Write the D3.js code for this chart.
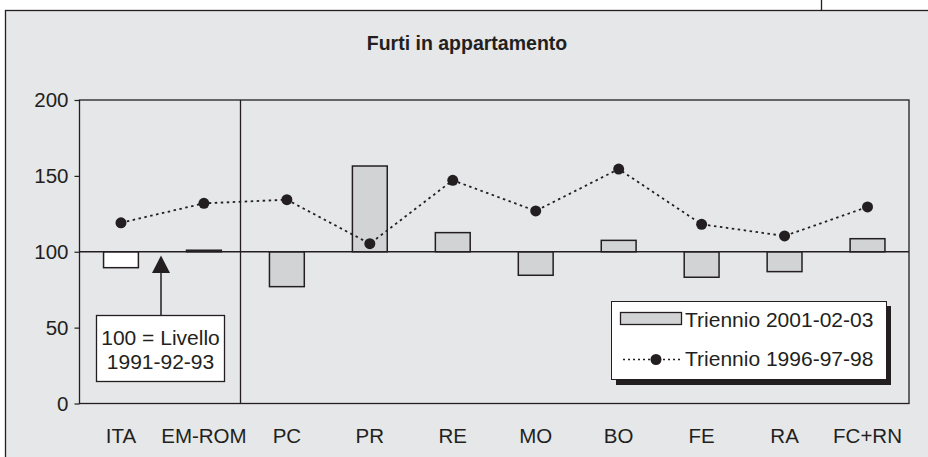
<!DOCTYPE html>
<html>
<head>
<meta charset="utf-8">
<script src="https://cdn.jsdelivr.net/npm/d3@7"></script>
<style>
  body { margin: 0; background: #fff; }
  text { font-family: "Liberation Sans", Arial, sans-serif; fill: #231f20; }
</style>
</head>
<body>
<div id="chart"></div>
<script>
const width = 928;
const height = 457;

// data (index, 100 = 1991-92-93)
const categories = ["ITA", "EM-ROM", "PC", "PR", "RE", "MO", "BO", "FE", "RA", "FC+RN"];
const triennio2001 = [89.5, 101, 77, 156.5, 112.6, 84.5, 107.5, 83.2, 86.9, 108.6];
const triennio1996 = [119.1, 131.9, 134.3, 105.3, 147.1, 126.9, 154.5, 118.1, 110.4, 129.5];
const yTicks = [0, 50, 100, 150, 200];
const legendLabels = ["Triennio 2001-02-03", "Triennio 1996-97-98"];

const ink = "#231f20";
const bg = "#e6e7e9";
const barFill = "#d2d3d5";

const plot = { left: 79.5, right: 909, top: 100, bottom: 403.5 };

const svg = d3.select("#chart")
  .append("svg")
  .attr("width", width)
  .attr("height", height);

// outer frame (runs off the right and bottom of the page)
svg.append("rect")
  .attr("x", 5.5).attr("y", 10.5)
  .attr("width", width + 10).attr("height", height + 10)
  .attr("fill", bg)
  .attr("stroke", ink).attr("stroke-width", 1.3);

svg.append("line")
  .attr("x1", 821.5).attr("x2", 821.5)
  .attr("y1", 0).attr("y2", 10.5)
  .attr("stroke", ink).attr("stroke-width", 1.3);

svg.append("text")
  .attr("x", 467).attr("y", 50)
  .attr("text-anchor", "middle")
  .attr("font-size", 19.5).attr("font-weight", "bold")
  .text("Furti in appartamento");

const x = d3.scaleBand()
  .domain(categories)
  .range([plot.left, plot.right])
  .paddingInner(0.58)
  .paddingOuter(0.29);

const y = d3.scaleLinear()
  .domain([0, 200])
  .range([plot.bottom, plot.top]);

const rows = categories.map((c, i) => ({ cat: c, bar: triennio2001[i], dot: triennio1996[i] }));

// plot box
svg.append("rect")
  .attr("x", plot.left).attr("y", plot.top)
  .attr("width", plot.right - plot.left).attr("height", plot.bottom - plot.top)
  .attr("fill", "none")
  .attr("stroke", ink).attr("stroke-width", 1.3);

// y axis
const yAxis = svg.append("g")
  .attr("transform", `translate(${plot.left},0)`)
  .call(d3.axisLeft(y).tickValues(yTicks).tickSize(5).tickPadding(6));
yAxis.select(".domain").remove();
yAxis.selectAll("line").attr("stroke", ink).attr("stroke-width", 1.2);
yAxis.selectAll("text")
  .attr("font-size", 20.5)
  .attr("font-family", "Liberation Sans, Arial, sans-serif")
  .attr("fill", ink);

// x labels
const xAxis = svg.append("g")
  .attr("transform", `translate(0,${plot.bottom})`)
  .call(d3.axisBottom(x).tickSize(0).tickPadding(25));
xAxis.select(".domain").remove();
xAxis.selectAll("text")
  .attr("font-size", 20.5)
  .attr("font-family", "Liberation Sans, Arial, sans-serif")
  .attr("fill", ink);

// separator between ITA / EM-ROM and provinces
svg.append("line")
  .attr("x1", 240.5).attr("x2", 240.5)
  .attr("y1", plot.top).attr("y2", plot.bottom)
  .attr("stroke", ink).attr("stroke-width", 1.3);

// bars from the 100 baseline
svg.selectAll(".bar")
  .data(rows)
  .enter().append("rect")
  .attr("class", "bar")
  .attr("x", d => x(d.cat))
  .attr("width", x.bandwidth())
  .attr("y", d => Math.min(y(d.bar), y(100)))
  .attr("height", d => Math.abs(y(d.bar) - y(100)))
  .attr("fill", d => d.cat === "ITA" ? "#fff" : barFill)
  .attr("stroke", ink).attr("stroke-width", 1.5);

// baseline at 100
svg.append("line")
  .attr("x1", plot.left).attr("x2", plot.right)
  .attr("y1", y(100)).attr("y2", y(100))
  .attr("stroke", ink).attr("stroke-width", 1.3);

// dotted line series
const line = d3.line()
  .x(d => x(d.cat) + x.bandwidth() / 2)
  .y(d => y(d.dot));

svg.append("path")
  .datum(rows)
  .attr("d", line)
  .attr("fill", "none")
  .attr("stroke", ink)
  .attr("stroke-width", 1.8)
  .attr("stroke-dasharray", "2.5,3.5");

svg.selectAll(".dot")
  .data(rows)
  .enter().append("circle")
  .attr("class", "dot")
  .attr("cx", d => x(d.cat) + x.bandwidth() / 2)
  .attr("cy", d => y(d.dot))
  .attr("r", 5.5)
  .attr("fill", ink);

// annotation box with arrow
const arrowX = 161;
svg.append("line")
  .attr("x1", arrowX).attr("x2", arrowX)
  .attr("y1", 316).attr("y2", 272)
  .attr("stroke", ink).attr("stroke-width", 1.5);
svg.append("path")
  .attr("d", `M${arrowX},255.5 L${arrowX - 9},273 L${arrowX + 9},273 Z`)
  .attr("fill", ink);

svg.append("rect")
  .attr("x", 96.5).attr("y", 315.5)
  .attr("width", 128).attr("height", 66)
  .attr("fill", "#fff")
  .attr("stroke", ink).attr("stroke-width", 1.3);
svg.append("text")
  .attr("x", 160.5).attr("y", 345)
  .attr("text-anchor", "middle")
  .attr("font-size", 21)
  .text("100 = Livello");
svg.append("text")
  .attr("x", 160.5).attr("y", 369)
  .attr("text-anchor", "middle")
  .attr("font-size", 21)
  .text("1991-92-93");

// legend
const legend = svg.append("g");
legend.append("rect")
  .attr("x", 616).attr("y", 306)
  .attr("width", 275).attr("height", 79)
  .attr("fill", ink);
legend.append("rect")
  .attr("x", 611.5).attr("y", 301.5)
  .attr("width", 275).attr("height", 78)
  .attr("fill", "#fff")
  .attr("stroke", ink).attr("stroke-width", 1);

legend.append("rect")
  .attr("x", 620.5).attr("y", 312.5)
  .attr("width", 61).attr("height", 12)
  .attr("fill", barFill)
  .attr("stroke", ink).attr("stroke-width", 1.3);
legend.append("text")
  .attr("x", 685).attr("y", 327)
  .attr("font-size", 21)
  .text(legendLabels[0]);

legend.append("line")
  .attr("x1", 623).attr("x2", 681)
  .attr("y1", 359.5).attr("y2", 359.5)
  .attr("stroke", ink).attr("stroke-width", 1.3)
  .attr("stroke-dasharray", "2,3");
legend.append("circle")
  .attr("cx", 656).attr("cy", 359.5).attr("r", 5.5)
  .attr("fill", ink);
legend.append("text")
  .attr("x", 685).attr("y", 366)
  .attr("font-size", 21)
  .text(legendLabels[1]);
</script>
</body>
</html>
